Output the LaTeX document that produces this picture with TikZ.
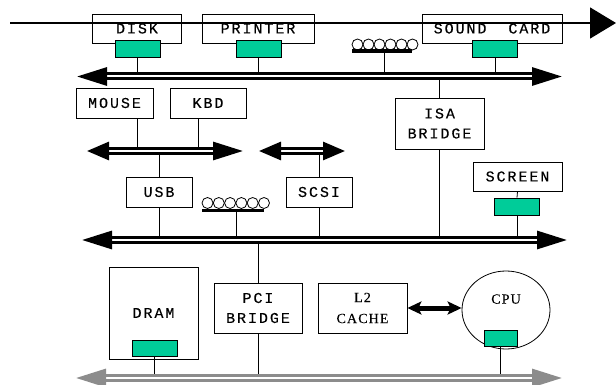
\documentclass[tikz,border=0pt]{standalone}
\usepackage{fontspec}
\newfontfamily\unitfont[LetterSpace=13,FakeBold=0.3]{Liberation Mono}
\newfontfamily\cpufont[LetterSpace=8,FakeBold=0.3]{Liberation Serif}
\usetikzlibrary{arrows.meta,shapes.geometric}
\definecolor{portgreen}{RGB}{0,204,153}
\definecolor{busgray}{RGB}{140,140,140}

\begin{document}
\begin{tikzpicture}[x=1pt, y=-1pt,
    unit/.style={draw, line width=0.8pt, inner sep=0pt, align=center,
      font=\unitfont\fontsize{15}{20}\selectfont},
    port/.style={draw, fill=portgreen, line width=0.8pt, inner sep=0pt,
      minimum width=45pt, minimum height=17pt},
    tap/.style={line width=0.8pt},
    bus/.style={line width=3pt, double distance=2pt,
      {Triangle[length=30pt,width=18pt]}-{Triangle[length=30pt,width=18pt]}},
    membus/.style={bus, draw=busgray}]
  \useasboundingbox[fill=white] (0,0) rectangle (616,385);
  % devices on the top bus
  \node[unit, minimum width=89pt, minimum height=29pt] (disk) at (137,28.5) {DISK};
  \node[unit, minimum width=112pt, minimum height=29pt] (printer) at (258,28.5) {PRINTER};
  \node[unit, minimum width=140pt, minimum height=29pt] (sound) at (492,28.5) {SOUND\ \ CARD};
  \node[port] (diskport) at (137.5,48.5) {};
  \node[port] (printerport) at (258.5,48.5) {};
  \node[port] (soundport) at (495,48.5) {};
  \foreach \i in {0,...,5} \draw[line width=0.8pt] (357.5+11*\i,44.5) circle (5.5);
  \fill (352,49.5) rectangle (412,53);
  \coordinate (coilA) at (384,53);
  % middle row
  \node[unit, minimum width=77pt, minimum height=30pt] (mouse) at (114.5,103) {MOUSE};
  \node[unit, minimum width=76pt, minimum height=30pt] (kbd) at (208,103) {KBD};
  \node[unit, minimum width=89pt, minimum height=51pt] (isa) at (439.5,123.5) {ISA\\BRIDGE};
  \node[unit, minimum width=66pt, minimum height=30pt] (usb) at (159,192) {USB};
  \node[unit, minimum width=66pt, minimum height=30pt] (scsi) at (319,192) {SCSI};
  \node[unit, minimum width=89pt, minimum height=29pt] (screen) at (517.5,176.5) {SCREEN};
  \node[port] (screenport) at (517,206.5) {};
  \foreach \i in {0,...,5} \draw[line width=0.8pt] (207.5+11.3*\i,203) circle (5.5);
  \fill (202,208.5) rectangle (264,212);
  \coordinate (coilB) at (236,212);
  % bottom row
  \node[unit, minimum width=89pt, minimum height=92pt] (dram) at (153.5,313) {DRAM};
  \node[port, minimum height=16pt] (dramport) at (154.5,348) {};
  \node[unit, minimum width=88pt, minimum height=50pt] (pci) at (258,308) {PCI\\BRIDGE};
  \node[unit, minimum width=89pt, minimum height=50pt, font=\cpufont\fontsize{14}{21}\selectfont] (cache) at (362.5,308) {L2\\CACHE};
  \node[unit, ellipse, minimum width=88pt, minimum height=78pt, font=\cpufont\fontsize{14}{16}\selectfont] (cpu) at (506,310) {CPU\\[6pt]};
  \node[port, minimum width=33pt, minimum height=16pt] (cpuport) at (500.5,338) {};
  % bus ends
  \coordinate (topL) at (77,76.5);
  \coordinate (topR) at (562,76.5);
  \coordinate (midL) at (87,151);
  \coordinate (midR) at (243,151);
  \coordinate (scsiL) at (259,151);
  \coordinate (scsiR) at (345,151);
  \coordinate (mainL) at (82,240);
  \coordinate (mainR) at (567,240);
  \coordinate (memL) at (76,378);
  \coordinate (memR) at (562,378);
  % taps
  \draw[tap] (diskport.south) -- (diskport.south |- topL);
  \draw[tap] (printerport.south) -- (printerport.south |- topL);
  \draw[tap] (soundport.south) -- (soundport.south |- topL);
  \draw[tap] (coilA) -- (coilA |- topL);
  \draw[tap] ([xshift=22.5pt]mouse.south) -- ([xshift=22.5pt]mouse.south |- midL);
  \draw[tap] ([xshift=-10pt]kbd.south) -- ([xshift=-10pt]kbd.south |- midL);
  \draw[tap] (isa.north) -- (isa.north |- topL);
  \draw[tap] (isa.south) -- (isa.south |- mainL);
  \draw[tap] (usb.north) -- (usb.north |- midL);
  \draw[tap] (usb.south) -- (usb.south |- mainL);
  \draw[tap] (scsi.north) -- (scsi.north |- scsiL);
  \draw[tap] (scsi.south) -- (scsi.south |- mainL);
  \draw[tap] (coilB) -- (coilB |- mainL);
  \draw[tap] (screen.south) -- (screenport.north);
  \draw[tap] (screenport.south) -- (screenport.south |- mainL);
  \draw[tap] (pci.north) -- (pci.north |- mainL);
  \draw[tap] (pci.south) -- (pci.south |- memL);
  \draw[tap] (dramport.south) -- (dramport.south |- memL);
  \draw[tap] (cpuport.south) -- (cpuport.south |- memL);
  % buses
  \draw[bus] (topL) -- (topR);
  \draw[bus, {Triangle[length=22pt,width=18pt]}-{Triangle[length=30pt,width=18pt]}] (midL) -- (midR);
  \draw[bus, {Triangle[length=22pt,width=18pt]}-{Triangle[length=22pt,width=18pt]}] (scsiL) -- (scsiR);
  \draw[bus] (mainL) -- (mainR);
  \draw[membus] (memL) -- (memR);
  \draw[line width=5pt, {Stealth[length=14pt,width=13pt,inset=3pt]}-{Stealth[length=14pt,width=13pt,inset=3pt]}] (cache.east) -- (cache.east -| cpu.west);
  % top line
  \coordinate (lineL) at (10,23);
  \coordinate (lineR) at (616,23);
  \draw[line width=1.5pt, -{Triangle[length=26pt,width=31pt]}] (lineL) -- (lineR);
\end{tikzpicture}
\end{document}
